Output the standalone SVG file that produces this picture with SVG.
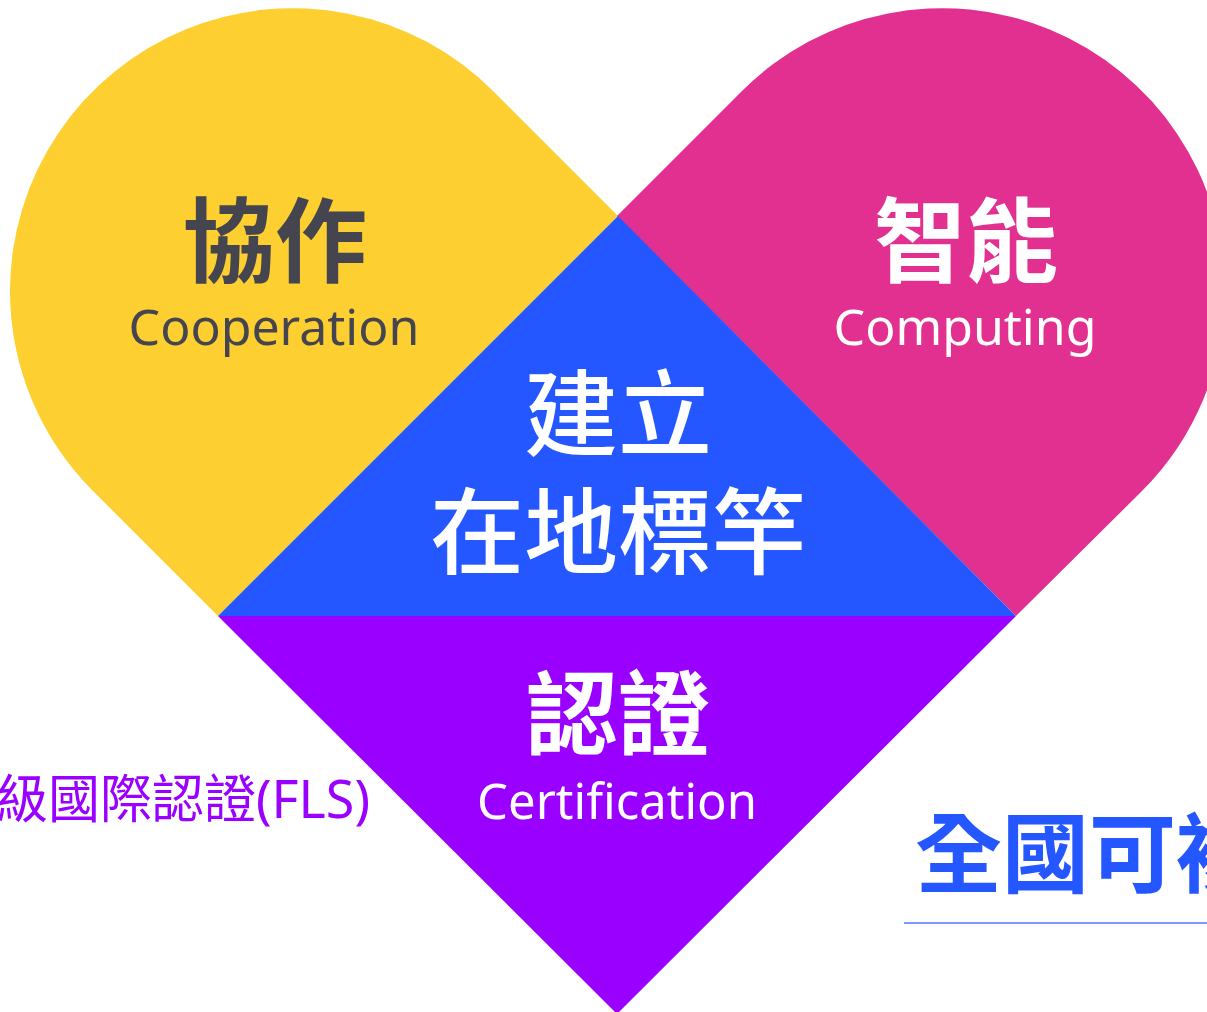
<svg xmlns="http://www.w3.org/2000/svg" width="1207" height="1012" viewBox="0 0 1207 1012">
<style>
.cjk{font-family:'Noto Sans CJK TC','Noto Sans',sans-serif;text-anchor:middle}
.lat{font-family:'Noto Sans','Open Sans','Noto Sans CJK TC',sans-serif;text-anchor:middle}
.b{font-weight:700}
.m{font-weight:500}
.w{fill:#ffffff}
.d{fill:#45454f}
</style>
<rect width="1207" height="1012" fill="#ffffff"/>
<g id="cooperation">
<path d="M618 216 L493 91 A283 283 0 0 0 10 291 A283 283 0 0 0 93 491 L218 616 Z" fill="#fdcf30"/>
<text class="cjk b d" x="275" y="275" font-size="92">協作</text>
<text class="lat d" x="274" y="345" font-size="50">Cooperation</text>
</g>
<g id="computing">
<path d="M617 216 L742 91 A283 283 0 0 1 1225 291 A283 283 0 0 1 1142 491 L1016 616 Z" fill="#e1308f"/>
<text class="cjk b w" x="966" y="275" font-size="92">智能</text>
<text class="lat w" x="965" y="345" font-size="50">Computing</text>
</g>
<g id="local">
<path d="M618 216 L1016 616 L218 616 Z" fill="#2457ff"/>
<text class="cjk m w" x="618" y="449" font-size="94">建立</text>
<text class="cjk m w" x="618" y="567" font-size="94">在地標竿</text>
</g>
<g id="certification">
<path d="M218 616 L1016 616 L617 1014 Z" fill="#9a00ff"/>
<text class="cjk b w" x="618" y="748" font-size="92">認證</text>
<text class="lat w" x="617" y="819" font-size="49">Certification</text>
</g>
<g id="fls">
<text class="lat" x="370" y="818" font-size="52" fill="#9a00ff" style="text-anchor:end">級國際認證(FLS)</text>
</g>
<g id="national">
<text class="cjk b" x="915" y="886" font-size="87" fill="#2457ff" style="text-anchor:start">全國可複</text>
<line x1="904" y1="923" x2="1207" y2="923" stroke="#7b9aff" stroke-width="2"/>
</g>
<g id="connectors"></g>
</svg>
